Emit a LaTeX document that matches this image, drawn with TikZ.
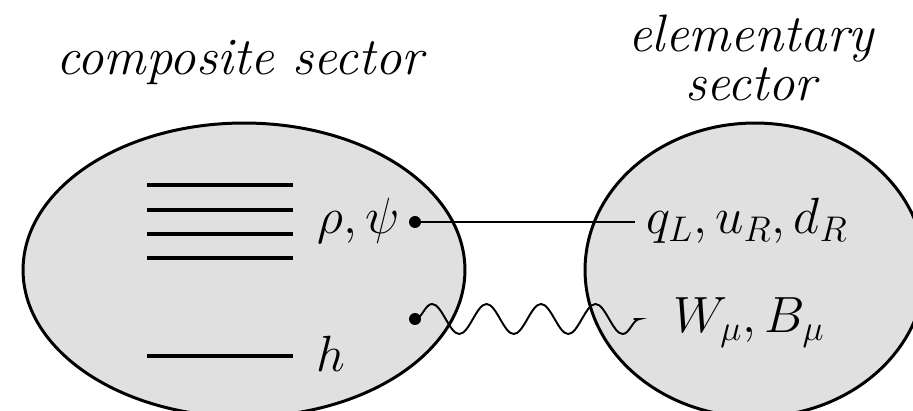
\RequirePackage{fix-cm}
\documentclass[tikz,border=0pt]{standalone}
\usetikzlibrary{shapes.geometric,decorations.pathmorphing,positioning}
\definecolor{sectorgray}{RGB}{224,224,224}

\tikzset{
    sector/.style={ellipse, draw, line width=1.7pt, fill=sectorgray, inner sep=0pt, minimum height=5.88cm},
    level/.style={line width=2.3pt},
    field/.style={inner sep=0pt, font=\fontsize{29}{34}\selectfont},
    title/.style={inner sep=0pt, align=center, font=\fontsize{30}{27.8}\selectfont\itshape},
    vertex/.style={circle, fill, inner sep=0pt, minimum size=0.24cm},
    fermion/.style={line width=1.1pt},
    boson/.style={line width=1.1pt, decorate, decoration={snake, amplitude=0.3cm, segment length=1.09cm}, shorten >=0.15cm}
}

\begin{document}
\begin{tikzpicture}[x=0.02cm, y=-0.02cm]
    \useasboundingbox (0,0) rectangle (913,411);
    \clip (0,0) rectangle (913,411);

    % Sectors
    \node[sector, minimum width=8.84cm] (composite) at (244,270) {};
    \node[sector, minimum width=6.8cm] (elementary) at (755,270) {};

    \node[title, anchor=base] (comptitle) at (240,75) {composite sector};
    \node[title, anchor=north] (elemtitle) at (751,15) {elementary\\sector};

    % Resonance levels
    \foreach \y in {185,210,234,258}
        \draw[level] (147,\y) -- (293,\y);
    \draw[level] (147,356) -- (293,356);

    % Fields
    \node[field, anchor=base east] (rhopsi) at (400,234) {$\rho,\psi$};
    \node[field, anchor=base west] (higgs) at (316,372) {$h$};
    \node[field, anchor=base west] (quarks) at (646,234) {$q_L,u_R,d_R$};
    \node[field, anchor=base west] (gauge) at (673,333) {$W_\mu,B_\mu$};

    % Mixing
    \node[vertex] (rhodot) at (415,222) {};
    \node[vertex] (gaugedot) at (415,319) {};
    \coordinate (quarkend) at (635,222);
    \coordinate (wavend) at (641,319);
    \draw[fermion] (rhodot.center) -- (quarkend);
    \draw[boson] (gaugedot.center) -- (wavend);
\end{tikzpicture}
\end{document}
